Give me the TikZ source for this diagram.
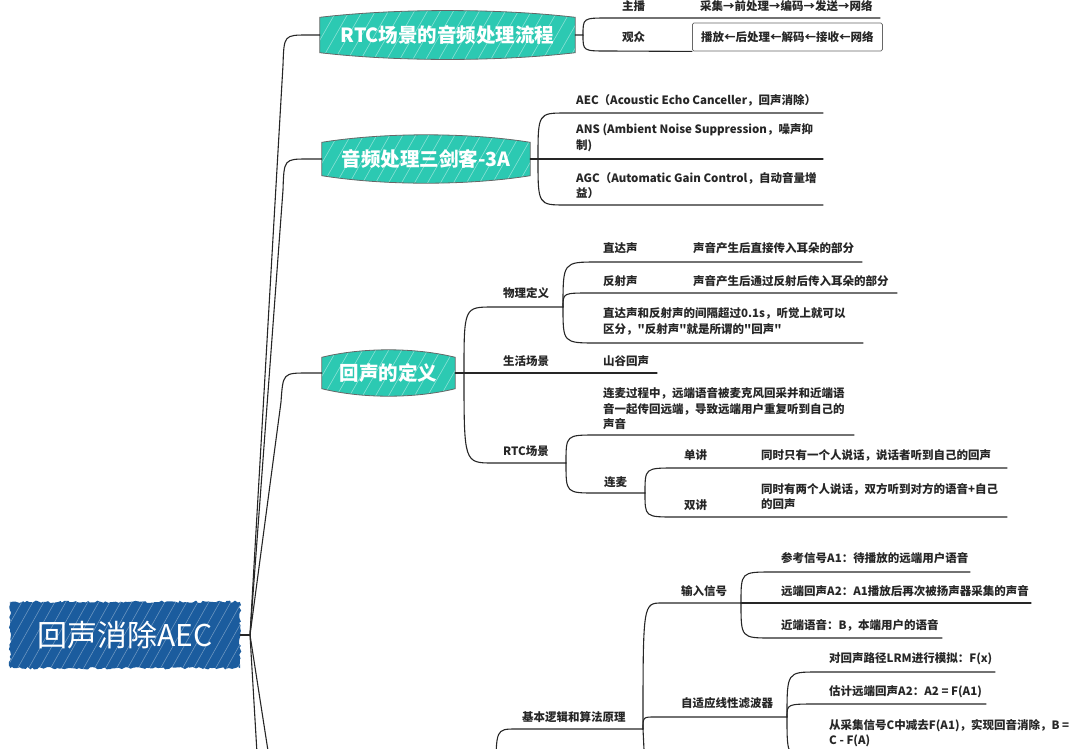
\documentclass[tikz,border=0pt]{standalone}
\usepackage{fontspec}
\setmainfont{Noto Sans CJK SC}[Ligatures=TeXOff]
\usetikzlibrary{calc,decorations.pathmorphing}
\pgfdeclarelayer{background}
\pgfsetlayers{background,main}
\definecolor{tealbox}{HTML}{2CC9B2}
\definecolor{rootblue}{HTML}{1B5C9E}
\definecolor{ink}{HTML}{262626}
\newcommand\tbarrel[2]{(#1.north west) .. controls ($(#1.north west)!0.3!(#1.north east)+(0,-#2)$) and ($(#1.north west)!0.7!(#1.north east)+(0,-#2)$) .. (#1.north east) -- (#1.south east) .. controls ($(#1.south west)!0.7!(#1.south east)+(0,#2)$) and ($(#1.south west)!0.3!(#1.south east)+(0,#2)$) .. (#1.south west) -- cycle}
\newcommand\tealtopic[2]{%
  \fill[tealbox] \tbarrel{#1}{#2};
  \begin{scope}
    \clip \tbarrel{#1}{#2};
    \foreach \k in {0,13,...,300}
      \draw[white,opacity=.45,line width=.6pt] ($(#1.south west)+(\k-40,12)$) -- ++(40,-70);
  \end{scope}
  \draw[ink!70,line width=.8pt] \tbarrel{#1}{#2};}
\begin{document}
\begin{tikzpicture}[x=1pt,y=-1pt,
  lbl/.style={anchor=west, inner sep=0pt, font=\fontsize{11.5}{15.5}\selectfont\bfseries, text=ink, align=left},
  con/.style={draw=ink, line width=1.1pt, line cap=round},
  topic/.style={inner sep=0pt, text=white, font=\fontsize{19.5}{21}\selectfont\bfseries},
  rootnode/.style={inner sep=0pt, text=white, minimum width=230pt, minimum height=66pt, font=\fontsize{30}{32}\selectfont}
]
\pgfmathsetseed{7}
\useasboundingbox (0,0) rectangle (1080,748);
\clip (0,0) rectangle (1080,748);

% ---------- root and topics ----------
\node[rootnode] (root) at (125,635) {回声消除AEC};
\node[topic, minimum width=255pt, minimum height=35pt] (rtc) at (447.5,35) {RTC场景的音频处理流程};
\node[topic, minimum width=208pt, minimum height=33pt] (tri) at (426,159) {音频处理三剑客-3A};
\node[topic, minimum width=133pt, minimum height=31pt] (def) at (388.5,373) {回声的定义};

\begin{pgfonlayer}{background}
  \fill[rootblue, decorate, decoration={random steps,segment length=2.5pt,amplitude=1.2pt}] (root.north west) rectangle (root.south east);
  \begin{scope}
    \clip (root.north west) rectangle (root.south east);
    \foreach \k in {0,11,...,320}
      \draw[white,opacity=.35,line width=.6pt] ($(root.south west)+(\k-50,5)$) -- ++(45,-80);
  \end{scope}
  \tealtopic{rtc}{9}
  \tealtopic{tri}{10}
  \tealtopic{def}{10}
\end{pgfonlayer}

% ---------- trunk ----------
\coordinate (rf) at (250,635);
\draw[con] (root.east) -- (rf);
\draw[con] (rf) -- (283,65) .. controls (284,35) .. (308,35) -- (rtc.west);
\draw[con] (rf) -- (283,190) .. controls (284,159) .. (308,159) -- (tri.west);
\draw[con] (rf) -- (281,402) .. controls (283,373) .. (308,373) -- (def.west);
\coordinate (down1) at (258,770);
\coordinate (down2) at (271,770);
\draw[con] (rf) -- (down1);
\draw[con] (rf) -- (down2);

% ---------- RTC flow ----------
\coordinate (f1) at (583,35);
\node[lbl] (zb) at (622,6) {主播};
\node[lbl] (cj) at (700,6) {采集→前处理→编码→发送→网络};
\node[lbl] (gz) at (622,37) {观众};
\node[lbl, draw=ink!70, line width=.8pt, rounded corners=1.5pt, inner xsep=7pt, minimum height=28pt, minimum width=190pt] (bf) at (692,37) {播放←后处理←解码←接收←网络};
\coordinate (zbS) at (608,18);
\coordinate (zbE) at (880,18);
\coordinate (gzS) at (608,51);
\draw[con] (rtc.east) -- (f1) .. controls (f1|-zbS) .. (zbS) -- (zbE);
\draw[con] (f1) .. controls (f1|-gzS) .. (gzS) -- (bf.south west);

% ---------- 3A ----------
\coordinate (f2) at (538,159);
\node[lbl] (aec) at (576,100) {AEC（Acoustic Echo Canceller，回声消除）};
\node[lbl] (ans) at (576,138) {ANS (Ambient Noise Suppression，噪声抑\\制)};
\node[lbl] (agc) at (576,185.5) {AGC（Automatic Gain Control，自动音量增\\益）};
\coordinate (aecS) at (566,113);
\coordinate (aecE) at (823,113);
\coordinate (ansE) at (823,159);
\coordinate (agcS) at (566,205);
\coordinate (agcE) at (823,205);
\draw[con] (tri.east) -- (ansE);
\draw[con] (f2) .. controls (f2|-aecS) .. (aecS) -- (aecE);
\draw[con] (f2) .. controls (f2|-agcS) .. (agcS) -- (agcE);

% ---------- definition ----------
\coordinate (f3) at (464,373);
\node[lbl] (wl) at (503,293) {物理定义};
\node[lbl] (sh) at (503,361) {生活场景};
\node[lbl] (sg) at (603,361) {山谷回声};
\node[lbl] (rs) at (503,451) {RTC场景};
\coordinate (wlS) at (493,307);
\coordinate (f4) at (563,307);
\coordinate (shE) at (657,373);
\coordinate (rsS) at (493,463);
\coordinate (f5) at (566,463);
\draw[con] (def.east) -- (shE);
\draw[con] (f3) .. controls (f3|-wlS) .. (wlS) -- (f4);
\draw[con] (f3) .. controls (f3|-rsS) .. (rsS) -- (f5);

\node[lbl] (zd) at (603,248) {直达声};
\node[lbl] (zdt) at (693,248) {声音产生后直接传入耳朵的部分};
\node[lbl] (fs) at (603,281) {反射声};
\node[lbl] (fst) at (693,281) {声音产生后通过反射后传入耳朵的部分};
\node[lbl] (jg) at (603,321.5) {直达声和反射声的间隔超过0.1s，听觉上就可以\\区分，"反射声"就是所谓的"回声"};
\coordinate (zdS) at (597,262);
\coordinate (zdE) at (862,262);
\coordinate (fsS) at (590,293);
\coordinate (fsE) at (897,293);
\coordinate (jgS) at (597,343);
\coordinate (jgE) at (863,343);
\draw[con] (f4) .. controls (f4|-zdS) .. (zdS) -- (zdE);
\draw[con] (f4) .. controls (f4|-fsS) .. (fsS) -- (fsE);
\draw[con] (f4) .. controls (f4|-jgS) .. (jgS) -- (jgE);

\node[lbl] (lmg) at (603,409) {连麦过程中，远端语音被麦克风回采并和近端语\\音一起传回远端，导致远端用户重复听到自己的\\声音};
\node[lbl] (lm) at (604,482) {连麦};
\coordinate (lmgS) at (596,435);
\coordinate (lmgE) at (854,435);
\coordinate (lmS) at (596,493);
\coordinate (f6) at (645,493);
\draw[con] (f5) .. controls (f5|-lmgS) .. (lmgS) -- (lmgE);
\draw[con] (f5) .. controls (f5|-lmS) .. (lmS) -- (f6);

\node[lbl] (dj) at (684,455) {单讲};
\node[lbl] (djt) at (761,455) {同时只有一个人说话，说话者听到自己的回声};
\node[lbl] (sj) at (684,505) {双讲};
\node[lbl] (sjt) at (761,496.5) {同时有两个人说话，双方听到对方的语音+自己\\的回声};
\coordinate (djS) at (675,468);
\coordinate (djE) at (1007,468);
\coordinate (sjS) at (675,517);
\coordinate (sjE) at (1007,517);
\draw[con] (f6) .. controls (f6|-djS) .. (djS) -- (djE);
\draw[con] (f6) .. controls (f6|-sjS) .. (sjS) -- (sjE);

% ---------- basic logic ----------
\node[lbl] (jb) at (522,717) {基本逻辑和算法原理};
\coordinate (jbB) at (496,775);
\coordinate (jbS) at (516,729);
\coordinate (f7) at (643,729);
\draw[con] (jbB) .. controls (jbB|-jbS) .. (jbS) -- (f7);

\node[lbl] (sr) at (681,591) {输入信号};
\node[lbl] (zs) at (681,703) {自适应线性滤波器};
\coordinate (srS) at (662,603);
\coordinate (f8) at (741,603);
\coordinate (zsS) at (655,717);
\coordinate (f9) at (787,717);
\coordinate (f7d) at (645,770);
\draw[con] (f7) .. controls (f7|-srS) .. (srS) -- (f8);
\draw[con] (f7) .. controls (f7|-zsS) .. (zsS) -- (f9);
\draw[con] (f7) -- (f7d);

\node[lbl] (ck) at (781,558) {参考信号A1：待播放的远端用户语音};
\node[lbl] (yd) at (781,591) {远端回声A2：A1播放后再次被扬声器采集的声音};
\node[lbl] (jd) at (781,625) {近端语音：B，本端用户的语音};
\coordinate (ckS) at (772,572);
\coordinate (ckE) at (970,572);
\coordinate (ydE) at (1031,603);
\coordinate (jdS) at (772,638);
\coordinate (jdE) at (942,638);
\draw[con] (f8) .. controls (f8|-ckS) .. (ckS) -- (ckE);
\draw[con] (f8) -- (ydE);
\draw[con] (f8) .. controls (f8|-jdS) .. (jdS) -- (jdE);

\node[lbl] (dh) at (829,659) {对回声路径LRM进行模拟：F(x)};
\node[lbl] (gj) at (829,692) {估计远端回声A2：A2 = F(A1)};
\node[lbl] (cc) at (829,733) {从采集信号C中减去F(A1)，实现回音消除，B =\\C - F(A)};
\coordinate (dhS) at (817,672);
\coordinate (dhE) at (995,672);
\coordinate (gjS) at (817,704);
\coordinate (gjE) at (986,704);
\coordinate (ccS) at (817,758);
\coordinate (ccE) at (1075,758);
\draw[con] (f9) .. controls (f9|-dhS) .. (dhS) -- (dhE);
\draw[con] (f9) .. controls (f9|-gjS) .. (gjS) -- (gjE);
\draw[con] (f9) .. controls (f9|-ccS) .. (ccS) -- (ccE);
\end{tikzpicture}
\end{document}
